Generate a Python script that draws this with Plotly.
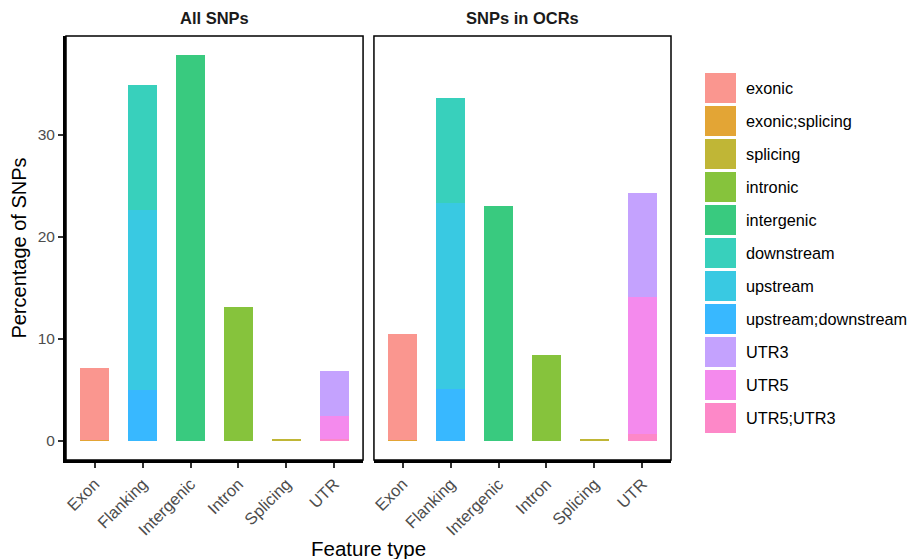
import plotly.graph_objects as go
from plotly.subplots import make_subplots

categories = ["Exon", "Flanking", "Intergenic", "Intron", "Splicing", "UTR"]
levels = ["exonic", "exonic;splicing", "splicing", "intronic", "intergenic",
          "downstream", "upstream", "upstream;downstream", "UTR3", "UTR5", "UTR5;UTR3"]
level_category = ["Exon", "Exon", "Splicing", "Intron", "Intergenic",
                  "Flanking", "Flanking", "Flanking", "UTR", "UTR", "UTR"]
colors = ["#FA968F", "#E3A535", "#C0B636", "#86C33C", "#39CA7F",
          "#38D0BC", "#39C9E2", "#38B8FF", "#C4A2FE", "#F48AED", "#FD88C8"]
all_snps_pct = [7.1, 0.06, 0.1, 13.1, 37.8, 12.3, 17.6, 5.0, 4.4, 2.25, 0.2]
ocr_snps_pct = [10.45, 0.06, 0.2, 8.4, 23.0, 10.25, 18.25, 5.1, 10.2, 13.4, 0.7]
panel_titles = ["All SNPs", "SNPs in OCRs"]
y_ticks = [0, 10, 20, 30]

# page body has an 8px margin; build the figure to fit inside the window
OFF = 8
W, H = 918 - OFF, 559 - OFF
ML, MT = 66 - OFF, 36 - OFF
MR, MB = 918 - 671, 559 - 460
PW, PH = W - ML - MR, H - MT - MB

FONT = "Liberation Sans, Arial, Helvetica, sans-serif"

fig = make_subplots(rows=1, cols=2, horizontal_spacing=0.018)

for col, vals in enumerate([all_snps_pct, ocr_snps_pct], start=1):
    # stack bottom-first: reverse legend order like ggplot
    for i in reversed(range(len(levels))):
        fig.add_trace(go.Bar(
            x=[categories.index(level_category[i])], y=[vals[i]],
            width=0.6, marker=dict(color=colors[i], line=dict(width=0)),
            name=levels[i], showlegend=False,
            hovertemplate=levels[i] + ": %{y}<extra></extra>",
        ), row=1, col=col)

yrange = [-1.89, 39.69]
for col in (1, 2):
    fig.update_xaxes(
        range=[-0.6, 5.6], tickmode="array", tickvals=list(range(len(categories))),
        ticktext=categories, tickangle=-45, ticks="outside", ticklen=5, tickwidth=2,
        tickcolor="#333333", tickfont=dict(family=FONT, size=16.5, color="#4D4D4D"),
        showline=True, mirror=False, linecolor="black", linewidth=3,
        showgrid=False, zeroline=False, row=1, col=col)
    fig.update_yaxes(range=yrange, showgrid=False, zeroline=False, row=1, col=col)
    # thin panel border
    xr = "x domain" if col == 1 else "x2 domain"
    yr = "y domain" if col == 1 else "y2 domain"
    fig.add_shape(type="rect", xref=xr, yref=yr, x0=0, x1=1, y0=0, y1=1,
                  line=dict(color="black", width=1.5), layer="above")

fig.update_yaxes(tickmode="array", tickvals=y_ticks, ticks="outside", ticklen=5,
                 tickwidth=2, tickcolor="#333333",
                 showline=True, linecolor="black", linewidth=3,
                 tickfont=dict(family=FONT, size=15.5, color="#4D4D4D"),
                 title=dict(text="Percentage of SNPs", standoff=8,
                            font=dict(family=FONT, size=20, color="black")),
                 row=1, col=1)
fig.update_yaxes(showticklabels=False, ticks="", showline=False, row=1, col=2)

fig.update_layout(
    xaxis=dict(domain=[0, 0.491]), xaxis2=dict(domain=[0.509, 1]),
    barmode="stack", width=W, height=H,
    margin=dict(l=ML, r=MR, t=MT, b=MB, autoexpand=False),
    paper_bgcolor="white", plot_bgcolor="white",
    font=dict(family=FONT), showlegend=False,
)


def px_x(p):
    return (p - OFF - ML) / PW


def px_y(p):
    return (MT + PH - (p - OFF)) / PH


# strip titles
for dom, title in zip([[0, 0.491], [0.509, 1]], panel_titles):
    fig.add_annotation(text="<b>%s</b>" % title, x=(dom[0] + dom[1]) / 2,
                       y=px_y(18), xref="paper", yref="paper",
                       xanchor="center", yanchor="middle",
                       showarrow=False, font=dict(family=FONT, size=16.5, color="#1A1A1A"))

# x title
fig.add_annotation(text="Feature type", x=0.5, y=px_y(548),
                   xref="paper", yref="paper", xanchor="center", yanchor="middle",
                   showarrow=False, font=dict(family=FONT, size=20.5, color="black"))

# legend (custom, large swatches)
for i, (lv, c) in enumerate(zip(levels, colors)):
    top = 73 + 33 * i
    fig.add_shape(type="rect", xref="paper", yref="paper",
                  x0=px_x(705), x1=px_x(736), y0=px_y(top + 30), y1=px_y(top),
                  fillcolor=c, line=dict(width=0))
    fig.add_annotation(text=lv, x=px_x(744), y=px_y(top + 15), xref="paper", yref="paper",
                       xanchor="left", yanchor="middle", showarrow=False,
                       font=dict(family=FONT, size=16.3, color="black"))

fig.write_html("out.html")
